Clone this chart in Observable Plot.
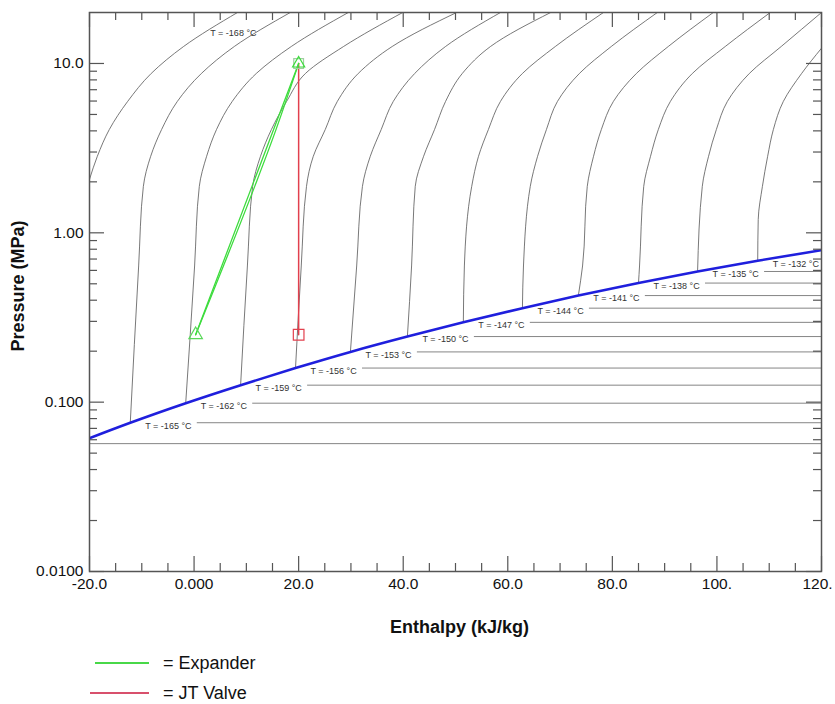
<!DOCTYPE html>
<html>
<head>
<meta charset="utf-8">
<script src="https://cdn.jsdelivr.net/npm/d3@7"></script>
<script src="https://cdn.jsdelivr.net/npm/@observablehq/plot@0.6"></script>
<style>
  body { margin: 0; background: #fff; font-family: "Liberation Sans", Arial, Helvetica, sans-serif; }
  #legend { position: relative; width: 835px; height: 56px; }
  #legend .sw { position: absolute; height: 2px; }
  #legend .lt { position: absolute; left: 163px; font-size: 18px; line-height: 20px; color: #111; white-space: nowrap; }
</style>
</head>
<body>
<div id="chart"></div>
<div id="legend">
  <div class="sw" style="left:95px; top:14px; width:54px; background:#48d848;"></div>
  <div class="lt" style="top:5px;">= Expander</div>
  <div class="sw" style="left:90px; top:44px; width:59px; background:#d8506c;"></div>
  <div class="lt" style="top:35px;">= JT Valve</div>
</div>
<script>
// ---- data ----
const temps = [-168, -165, -162, -159, -156, -153, -150, -147, -144, -141, -138, -135, -132];
// saturated-liquid enthalpy (kJ/kg) and saturation pressure (MPa) for each isotherm
const satH = [-22.7, -12.2, -1.6, 8.9, 19.4, 29.9, 40.8, 51.5, 62.8, 73.5, 85.0, 96.3, 107.8];
const satP = [0.0569, 0.0756, 0.0986, 0.126, 0.159, 0.198, 0.244, 0.296, 0.359, 0.426, 0.505, 0.591, 0.684];
const domeEndH = 120.0;
const domeEndP = 0.79;

// compressed-liquid isotherms, read bottom to top
const liquidH = [
  [-20.0, -18.5, -16.2, -12.7, -8.2, -2.0, 8.3],
  [-12.2, -10.6, -9.7, -8.3, -6.2, -3.2, 1.4, 7.7, 18.4],
  [-1.6, 0.1, 1.0, 2.4, 4.3, 7.3, 11.9, 18.6, 29.5],
  [8.9, 10.2, 11.2, 12.7, 14.8, 17.7, 21.3, 28.6, 39.9],
  [19.4, 20.5, 21.5, 22.8, 25.1, 27.4, 31.4, 37.9, 50.2],
  [29.9, 31.1, 32.2, 33.7, 35.8, 38.1, 42.2, 48.1, 58.6],
  [40.8, 41.6, 42.3, 43.9, 46.0, 48.1, 51.3, 56.7, 68.2],
  [51.5, 51.7, 53.1, 54.4, 56.3, 58.6, 62.8, 69.1, 78.3],
  [62.8, 63.0, 64.3, 65.7, 67.4, 69.5, 73.7, 79.8, 88.6],
  [73.5, 74.3, 75.2, 76.4, 77.9, 80.2, 84.6, 90.7, 99.3],
  [85.0, 85.2, 86.0, 87.3, 88.8, 91.1, 95.3, 101.6, 110.2],
  [96.3, 97.2, 98.4, 99.9, 102.0, 106.2, 112.3, 120.0],
  [107.8, 107.9, 108.7, 109.7, 110.8, 112.7, 116.2, 120.0]
];
const liquidP = [
  [2.07, 2.83, 4.08, 5.97, 8.73, 12.6, 20],
  [0.0756, 0.637, 1.88, 2.83, 4.08, 5.97, 8.73, 12.6, 20],
  [0.0986, 0.637, 1.88, 2.83, 4.08, 5.97, 8.73, 12.6, 20],
  [0.126, 0.637, 1.88, 2.83, 4.08, 5.97, 8.73, 12.6, 20],
  [0.159, 0.637, 1.88, 2.83, 4.08, 5.97, 8.73, 12.6, 20],
  [0.198, 0.637, 1.88, 2.83, 4.08, 5.97, 8.73, 12.6, 20],
  [0.244, 0.637, 1.88, 2.83, 4.08, 5.97, 8.73, 12.6, 20],
  [0.296, 0.637, 1.88, 2.83, 4.08, 5.97, 8.73, 12.6, 20],
  [0.359, 0.637, 1.88, 2.83, 4.08, 5.97, 8.73, 12.6, 20],
  [0.426, 0.637, 1.88, 2.83, 4.08, 5.97, 8.73, 12.6, 20],
  [0.505, 0.637, 1.88, 2.83, 4.08, 5.97, 8.73, 12.6, 20],
  [0.591, 1.88, 2.83, 4.08, 5.97, 8.73, 12.6, 20],
  [0.684, 1.20, 1.88, 2.83, 4.08, 5.97, 8.73, 12.3]
];

// label of the -168 °C isotherm (top of chart)
const topLabelText = "T = -168 °C";
const topLabelH = 3.1;
const topLabelP = 15.2;

// process paths
const expanderH = [0.3, 20.0];
const expanderP = [0.25, 10.0];
const expander2H = [0.3, 11.6, 15.2, 20.0];
const expander2P = [0.25, 1.88, 3.71, 10.0];
const jtH = [20.0, 20.0];
const jtP = [10.0, 0.25];

// axis ticks
const xMajor = [-20, 0, 20, 40, 60, 80, 100, 120];
const xLabels = ["-20.0", "0.000", "20.0", "40.0", "60.0", "80.0", "100.", "120."];
const xMinor = [-15, -10, -5, 5, 10, 15, 25, 30, 35, 45, 50, 55, 65, 70, 75, 85, 90, 95, 105, 110, 115];
const yMajor = [0.01, 0.1, 1, 10];
const yLabels = ["0.0100", "0.100", "1.00", "10.0"];
const yMinor = [0.02, 0.03, 0.04, 0.05, 0.06, 0.07, 0.08, 0.09,
                0.2, 0.3, 0.4, 0.5, 0.6, 0.7, 0.8, 0.9,
                2, 3, 4, 5, 6, 7, 8, 9];

// ---- build tables ----
const liquidRows = [];
temps.forEach((T, i) => liquidH[i].forEach((h, j) => liquidRows.push({T, h, P: liquidP[i][j]})));
const dome = temps.map((T, i) => ({h: satH[i], P: satP[i]})).concat([{h: domeEndH, P: domeEndP}]);
const twoPhase = temps.map((T, i) => ({T, h: satH[i], P: satP[i], hEnd: domeEndH}));
const labelled = twoPhase.slice(1);
const expander = expanderH.map((h, i) => ({h, P: expanderP[i]}));
const expander2 = expander2H.map((h, i) => ({h, P: expander2P[i]}));
const jt = jtH.map((h, i) => ({h, P: jtP[i]}));
const xLabelMap = new Map(xMajor.map((d, i) => [d, xLabels[i]]));
const yLabelMap = new Map(yMajor.map((d, i) => [d, yLabels[i]]));

const W = 835, H = 648, mL = 89, mR = 14, mT = 12, mB = 77;
const fw = W - mL - mR, fh = H - mT - mB;
const tickColor = "#555";

const chart = Plot.plot({
  width: W, height: H,
  marginLeft: mL, marginRight: mR, marginTop: mT, marginBottom: mB,
  style: {fontFamily: "'Liberation Sans', Arial, Helvetica, sans-serif", fontSize: "15.5px", background: "#fff", color: "#111"},
  x: {domain: [-20, 120], label: null},
  y: {type: "log", domain: [0.01, 20], label: null},
  marks: [
    // two-phase isotherms (horizontal)
    Plot.ruleY([twoPhase[0]], {y: "P", x1: "h", x2: "hEnd", stroke: "#666", strokeWidth: 0.8, clip: true}),
    Plot.ruleY(labelled, {y: "P", x1: "h", x2: "hEnd", insetLeft: 67, stroke: "#666", strokeWidth: 0.8, clip: true}),
    // compressed-liquid isotherms
    Plot.line(liquidRows, {x: "h", y: "P", z: "T", stroke: "#555", strokeWidth: 0.8, curve: "monotone-y", clip: true}),
    // saturation curve
    Plot.line(dome, {x: "h", y: "P", stroke: "#1f1fdd", strokeWidth: 2.6, curve: "monotone-x", clip: true}),
    // isotherm labels
    Plot.text(labelled, {x: "h", y: "P", text: d => `T = ${d.T} °C`, textAnchor: "start", dx: 15, dy: 3, fontSize: 9, fill: "#333"}),
    Plot.text([topLabelText], {x: () => topLabelH, y: () => topLabelP, text: d => d, textAnchor: "start", fontSize: 9, fill: "#333"}),
    // process lines
    Plot.line(jt, {x: "h", y: "P", stroke: "#e2404e", strokeWidth: 1.5}),
    Plot.line(expander, {x: "h", y: "P", stroke: "#3ddc3d", strokeWidth: 1.3}),
    Plot.line(expander2, {x: "h", y: "P", stroke: "#3ddc3d", strokeWidth: 1.3, curve: "monotone-y"}),
    // markers
    Plot.dot([jt[1]], {x: "h", y: "P", symbol: "square", r: 6, stroke: "#e2404e", fill: "none", strokeWidth: 1.2}),
    Plot.dot([expander[0]], {x: "h", y: "P", symbol: "triangle", r: 5, stroke: "#5ad85a", fill: "none", strokeWidth: 1.2}),
    Plot.dot([jt[0]], {x: "h", y: "P", symbol: "square", r: 5.5, stroke: "#9fcf9f", fill: "none", strokeWidth: 1.2}),
    Plot.dot([jt[0]], {x: "h", y: "P", symbol: "triangle", r: 4.5, stroke: "#3ddc3d", fill: "none", strokeWidth: 1.2}),
    // inward ticks
    Plot.tickX(xMajor, {insetTop: fh - 15, stroke: tickColor, strokeWidth: 1.2}),
    Plot.tickX(xMinor, {insetTop: fh - 8, stroke: tickColor, strokeWidth: 1.2}),
    Plot.tickX(xMajor, {insetBottom: fh - 15, stroke: tickColor, strokeWidth: 1.2}),
    Plot.tickX(xMinor, {insetBottom: fh - 8, stroke: tickColor, strokeWidth: 1.2}),
    Plot.tickY(yMajor, {insetRight: fw - 15, stroke: tickColor, strokeWidth: 1.2}),
    Plot.tickY(yMinor, {insetRight: fw - 8, stroke: tickColor, strokeWidth: 1.2}),
    Plot.tickY(yMajor, {insetLeft: fw - 15, stroke: tickColor, strokeWidth: 1.2}),
    Plot.tickY(yMinor, {insetLeft: fw - 8, stroke: tickColor, strokeWidth: 1.2}),
    Plot.frame({stroke: tickColor, strokeWidth: 1.5}),
    // tick labels
    Plot.axisX(xMajor.slice(0, -1), {tickSize: 0, tickPadding: 6, tickFormat: d => xLabelMap.get(d), fontSize: 15.5, label: null}),
    Plot.axisX(xMajor.slice(-1), {tickSize: 0, tickPadding: 6, tickFormat: d => xLabelMap.get(d), fontSize: 15.5, label: null, dx: -4}),
    Plot.axisY(yMajor, {tickSize: 0, tickPadding: 6, tickFormat: d => yLabelMap.get(d), fontSize: 15.5, label: null}),
    // axis titles
    Plot.text(["Enthalpy (kJ/kg)"], {frameAnchor: "bottom", dy: 61, dx: 4, fontWeight: "bold", fontSize: 18, fill: "#111"}),
    Plot.text(["Pressure (MPa)"], {frameAnchor: "left", dx: -71, dy: -6, rotate: -90, textAnchor: "middle", fontWeight: "bold", fontSize: 18, fill: "#111"})
  ]
});
document.getElementById("chart").appendChild(chart);
</script>
</body>
</html>
